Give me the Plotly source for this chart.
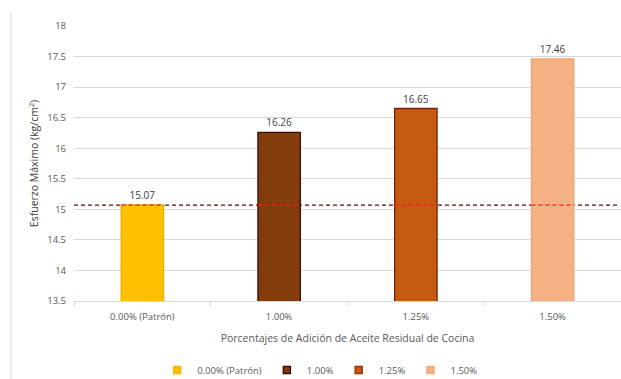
import plotly.graph_objects as go

categories = ["0.00% (Patrón)", "1.00%", "1.25%", "1.50%"]
values = [15.07, 16.26, 16.65, 17.46]
legend_names = ["0.00% (Patrón)", "1.00%", "1.25%", "1.50%"]
fill_colors = ["#FFC000", "#843C0C", "#C55A11", "#F4B183"]
line_colors = ["#E8AE00", "#3A0E02", "#7A1E06", "#EBA576"]
legend_swatch_colors = ["#F5B800", "#3A0E02", "#9E3408", "#EFAA7C"]
reference_value = values[0]
y_ticks = [13.5, 14, 14.5, 15, 15.5, 16, 16.5, 17, 17.5, 18]

FONT = "Open Sans"
bar_width = 0.31

fig = go.Figure()
for cat, val, name, fc, lc in zip(categories, values, legend_names, fill_colors, line_colors):
    fig.add_trace(go.Bar(
        x=[cat], y=[val], name=name, showlegend=False,
        marker=dict(color=fc, line=dict(color=lc, width=1.3)),
        width=bar_width,
        text=[f"{val:.2f}"], textposition="outside",
        textfont=dict(family=FONT, size=10, color="#404040"),
        cliponaxis=False,
    ))

# legend entries with small square swatches
for name, fc, lc in zip(legend_names, fill_colors, legend_swatch_colors):
    fig.add_trace(go.Scatter(
        x=[None], y=[None], mode="markers", name=name, showlegend=True,
        marker=dict(symbol="square", size=7, color=fc, line=dict(color=lc, width=1.5)),
    ))

# reference dashed line (dark over background, red over bars)
fig.add_shape(type="line", xref="paper", yref="y", x0=0, x1=0.993,
              y0=reference_value, y1=reference_value,
              line=dict(color="#5C0A0A", width=1.2, dash="4px,3px"), layer="between")
for i in range(len(categories)):
    fig.add_shape(type="line", xref="x", yref="y",
                  x0=i - bar_width / 2, x1=i + bar_width / 2,
                  y0=reference_value, y1=reference_value,
                  line=dict(color="#FF1A1A", width=1.2, dash="4px,3px"), layer="above")

# outer chart frame (left edge visible)
fig.add_shape(type="line", xref="paper", yref="paper", x0=-0.1152, x1=-0.1152,
              y0=-0.3, y1=1.051, line=dict(color="#D9D9D9", width=1))

fig.update_layout(
    width=621, height=379,
    margin=dict(l=74, r=0, t=26, b=78, autoexpand=False),
    paper_bgcolor="white", plot_bgcolor="white",
    barmode="overlay",
    font=dict(family=FONT, color="#595959", size=10),
    showlegend=True,
    legend=dict(orientation="h", x=0.45, xanchor="center",
                yref="container", y=0.024, yanchor="middle",
                font=dict(family=FONT, size=9.5, color="#595959"),
                itemwidth=30, tracegroupgap=0, itemclick=False, itemdoubleclick=False),
    xaxis=dict(
        type="category", categoryorder="array", categoryarray=categories,
        range=[-0.5, 3.5], automargin=False,
        showgrid=False, showline=True, linecolor="#D9D9D9", linewidth=1,
        ticks="outside", tickson="boundaries", ticklen=4, tickcolor="#D9D9D9",
        ticklabelstandoff=7,
        tickfont=dict(family=FONT, size=9.5, color="#595959"),
        title=dict(text="Porcentajes de Adición de Aceite Residual de Cocina",
                   font=dict(family=FONT, size=10.5, color="#595959"), standoff=12),
        fixedrange=True,
    ),
    yaxis=dict(
        range=[13.5, 18], tickvals=y_ticks, ticktext=[f"{t:g}" for t in y_ticks],
        automargin=False,
        showgrid=True, gridcolor="#D9D9D9", gridwidth=1,
        showline=False, zeroline=False, ticks="", ticklabelstandoff=7,
        tickfont=dict(family=FONT, size=9.5, color="#595959"),
        title=dict(text="Esfuerzo Máximo (kg/cm<sup>2</sup>)",
                   font=dict(family=FONT, size=10.5, color="#404040"), standoff=6),
        fixedrange=True,
    ),
)

fig.write_html("out.html")
